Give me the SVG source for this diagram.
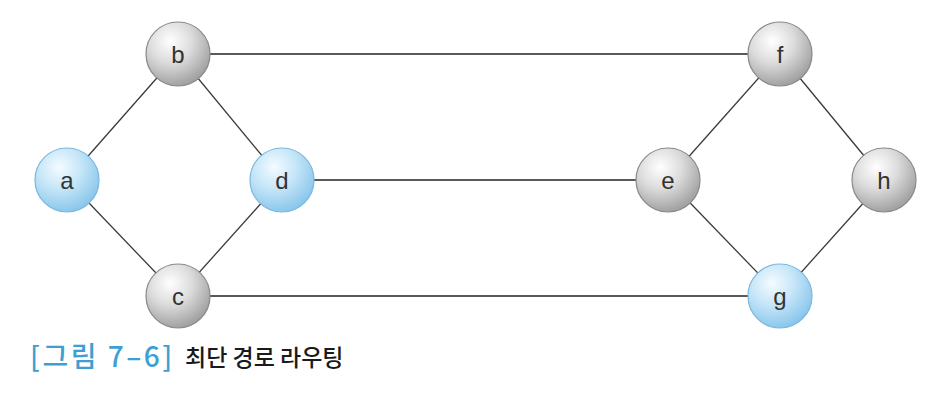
<svg xmlns="http://www.w3.org/2000/svg" width="930" height="408" viewBox="0 0 930 408">
<defs>
<radialGradient id="gGray" cx="0.38" cy="0.3" r="0.75">
<stop offset="0" stop-color="#ffffff"/>
<stop offset="0.45" stop-color="#dcdcdc"/>
<stop offset="1" stop-color="#9a9a9a"/>
</radialGradient>
<radialGradient id="gBlue" cx="0.38" cy="0.3" r="0.75">
<stop offset="0" stop-color="#f4fbff"/>
<stop offset="0.45" stop-color="#c6e6f8"/>
<stop offset="1" stop-color="#84c3ea"/>
</radialGradient>
<style>
.edge{stroke:#3a3a3a;stroke-width:1.3;fill:none}
.h{stroke:#222;stroke-width:1.6}
.gray{fill:url(#gGray);stroke:#8a8a8a;stroke-width:1.2}
.blue{fill:url(#gBlue);stroke:#7ab8de;stroke-width:1.2}
.lbl{font-family:"Liberation Sans",Arial,sans-serif;font-size:24px;fill:#333;text-anchor:middle;dominant-baseline:central}
.cap{font-family:"Noto Sans CJK KR","Noto Sans",sans-serif;font-weight:500}
</style>
</defs>
<rect width="930" height="408" fill="#ffffff"/>
<g id="connectors">
<line class="edge" x1="67" y1="180" x2="178" y2="54"/>
<line class="edge" x1="178" y1="54" x2="282" y2="180"/>
<line class="edge" x1="67" y1="180" x2="178" y2="296"/>
<line class="edge" x1="178" y1="296" x2="282" y2="180"/>
<line class="edge h" x1="178" y1="54" x2="780" y2="54"/>
<line class="edge h" x1="282" y1="180" x2="668" y2="180"/>
<line class="edge h" x1="178" y1="296" x2="780" y2="296"/>
<line class="edge" x1="668" y1="180" x2="780" y2="54"/>
<line class="edge" x1="780" y1="54" x2="884" y2="180"/>
<line class="edge" x1="668" y1="180" x2="780" y2="296"/>
<line class="edge" x1="780" y1="296" x2="884" y2="180"/>
</g>
<g id="node-a"><circle class="blue" cx="67" cy="180" r="32"/><text class="lbl" x="67" y="180">a</text></g>
<g id="node-b"><circle class="gray" cx="178" cy="54" r="32"/><text class="lbl" x="178" y="54">b</text></g>
<g id="node-c"><circle class="gray" cx="178" cy="296" r="32"/><text class="lbl" x="178" y="296">c</text></g>
<g id="node-d"><circle class="blue" cx="282" cy="180" r="32"/><text class="lbl" x="282" y="180">d</text></g>
<g id="node-e"><circle class="gray" cx="668" cy="180" r="32"/><text class="lbl" x="668" y="180">e</text></g>
<g id="node-f"><circle class="gray" cx="780" cy="54" r="32"/><text class="lbl" x="780" y="54">f</text></g>
<g id="node-g"><circle class="blue" cx="780" cy="296" r="32"/><text class="lbl" x="780" y="296">g</text></g>
<g id="node-h"><circle class="gray" cx="884" cy="180" r="32"/><text class="lbl" x="884" y="180">h</text></g>
<g id="caption">
<text class="cap" x="30" y="367" fill="#3d9fd3" font-size="28" letter-spacing="2.5">[그림 7–6]</text>
<text class="cap" x="185" y="366" fill="#1a1a1a" font-size="23">최단 경로 라우팅</text>
</g>
</svg>
